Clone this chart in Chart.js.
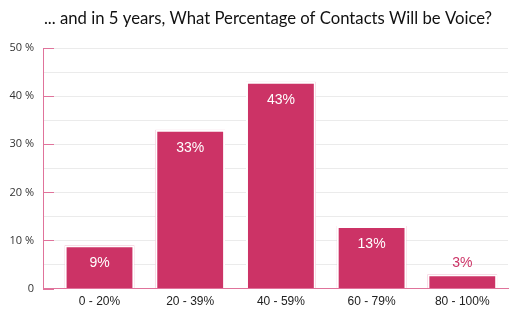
<!DOCTYPE html>
<html>
  <head>
    <meta charset="UTF-8">
    <title>Voice contacts in 5 years</title>
    <script src="https://cdn.jsdelivr.net/npm/chart.js"></script>
    <style>
      html, body { margin: 0; padding: 0; background: #fff; }
      #wrap { width: 510px; height: 325px; }
    </style>
  </head>
  <body>
    <div id="wrap"><canvas id="barChart"></canvas></div>
    <script>
      // values
      const categories = ['0 - 20%', '20 - 39%', '40 - 59%', '60 - 79%', '80 - 100%'];
      const percentages = [9, 33, 43, 13, 3];
      const yTicks = [0, 10, 20, 30, 40, 50];
      const titleText = '... and in 5 years, What Percentage of Contacts Will be Voice?';

      const barFill = '#cc3366';
      const pink = '#e0739b';

      // bars sit on a numeric x axis so the first category can start a bit right of the y axis
      const points = categories.map((c, i) => ({ x: i, y: percentages[i] }));

      // title, nudged a little right of the canvas centre
      const plotTitle = {
        id: 'plotTitle',
        afterDraw(chart) {
          const ctx = chart.ctx;
          ctx.save();
          ctx.font = '16.7px Lato, sans-serif';
          ctx.fillStyle = '#111';
          ctx.textAlign = 'center';
          ctx.textBaseline = 'middle';
          ctx.fillText(titleText, chart.width / 2 + 13, 19);
          ctx.restore();
        }
      };

      // short pink marks on the y axis, pointing into the plot
      const tickMarks = {
        id: 'tickMarks',
        afterDraw(chart) {
          const ctx = chart.ctx;
          const y = chart.scales.y;
          const left = chart.chartArea.left;
          ctx.save();
          ctx.strokeStyle = pink;
          ctx.lineWidth = 1;
          yTicks.forEach(v => {
            const py = Math.round(y.getPixelForValue(v)) + 0.5;
            ctx.beginPath();
            ctx.moveTo(left, py);
            ctx.lineTo(left + 11, py);
            ctx.stroke();
          });
          ctx.restore();
        }
      };

      // percentage labels on the bars
      const barLabels = {
        id: 'barLabels',
        afterDatasetsDraw(chart) {
          const ctx = chart.ctx;
          const meta = chart.getDatasetMeta(1);
          ctx.save();
          ctx.font = '14px "Liberation Sans", Arial, sans-serif';
          ctx.textAlign = 'center';
          ctx.textBaseline = 'middle';
          meta.data.forEach((bar, i) => {
            const v = percentages[i];
            if (v >= 5) {
              ctx.fillStyle = '#ffffff';
              ctx.fillText(v + '%', bar.x, bar.y + 18);
            } else {
              ctx.fillStyle = barFill;
              ctx.fillText(v + '%', bar.x, bar.y - 11);
            }
          });
          ctx.restore();
        }
      };

      new Chart(document.getElementById('barChart').getContext('2d'), {
        type: 'bar',
        data: {
          datasets: [
            {
              data: points,
              backgroundColor: barFill,
              borderColor: '#ffffff',
              borderWidth: 2,
              grouped: false,
              barPercentage: 0.77,
              categoryPercentage: 1
            },
            {
              data: points,
              backgroundColor: 'rgba(0,0,0,0)',
              borderColor: pink,
              borderWidth: 1,
              grouped: false,
              barPercentage: 0.77,
              categoryPercentage: 1
            }
          ]
        },
        options: {
          responsive: true,
          maintainAspectRatio: false,
          animation: false,
          layout: { padding: { left: 0, right: 2, top: 48, bottom: 10 } },
          plugins: {
            legend: { display: false },
            tooltip: { enabled: false },
            title: { display: false }
          },
          scales: {
            x: {
              type: 'linear',
              min: -0.623,
              max: 4.504,
              offset: false,
              afterBuildTicks(scale) {
                scale.ticks = categories.map((c, i) => ({ value: i }));
              },
              grid: { display: false, drawTicks: false },
              border: { color: pink, width: 1 },
              ticks: {
                color: '#222',
                font: { family: '"Liberation Sans", Arial, sans-serif', size: 12 },
                padding: 6,
                callback: v => categories[v]
              }
            },
            y: {
              min: 0,
              max: 50,
              afterFit(scale) { scale.width = 43; },
              grid: { color: '#ebebeb', drawTicks: false },
              border: { color: pink, width: 1 },
              ticks: {
                stepSize: 5,
                color: '#333',
                padding: 9,
                font: { family: '"Open Sans", sans-serif', size: 11 },
                callback: v => yTicks.includes(v) ? (v === 0 ? '0' : v + ' %') : ''
              }
            }
          }
        },
        plugins: [plotTitle, tickMarks, barLabels]
      });
    </script>
  </body>
</html>
